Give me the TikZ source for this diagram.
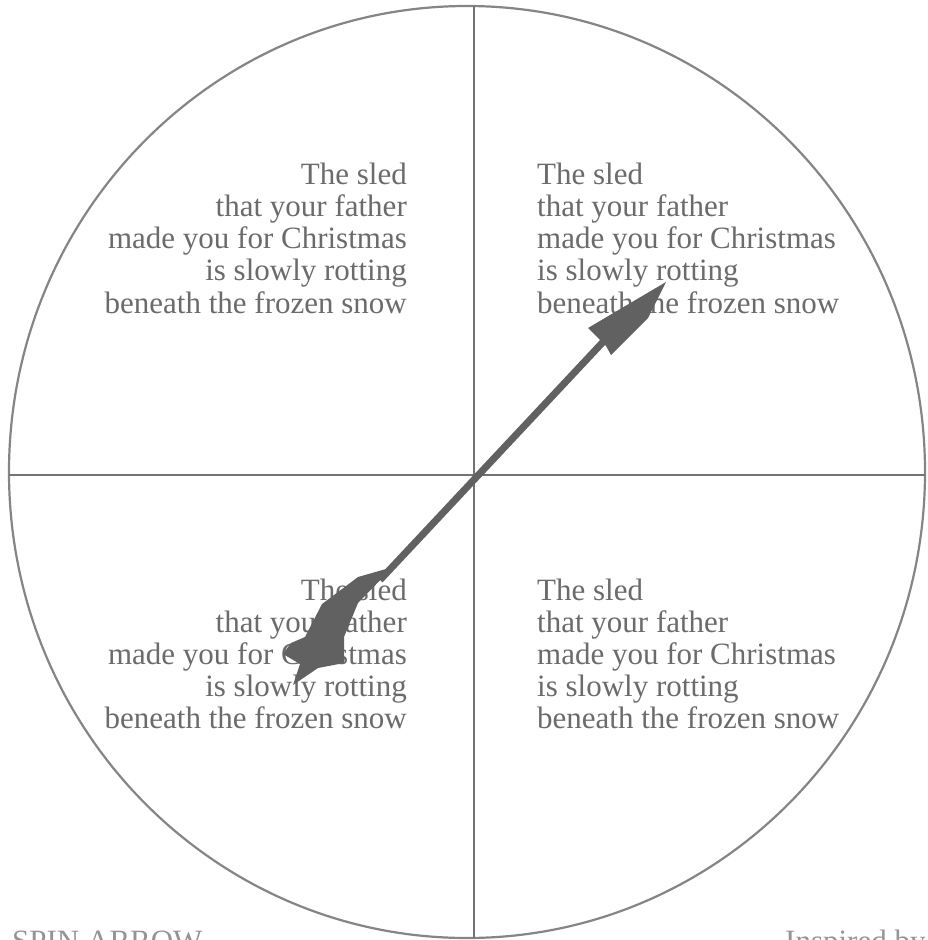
\documentclass[tikz,border=0pt]{standalone}
\usepackage{fontspec}
\setmainfont{Liberation Serif}
\begin{document}
\begin{tikzpicture}[x=1pt,y=-1pt,
  rim/.style={draw=black!48, line width=2.2pt},
  divider/.style={draw=black!55, line width=1.6pt},
  verse/.style={font=\fontsize{31}{32}\selectfont, text=black!58, inner sep=0pt},
  caption/.style={font=\fontsize{31}{32}\selectfont, text=black!42, inner sep=0pt},
  spinner/.style={fill=black!62, draw=none}]
\useasboundingbox (0,0) rectangle (927,940);
\clip (0,0) rectangle (927,940);
\fill[white] (0,0) rectangle (927,940);
% wheel
\coordinate (c) at (467,472);
\draw[rim] (c) ellipse [x radius=458, y radius=466];
\coordinate (vtop) at (474,6);
\coordinate (vbot) at (474,938);
\coordinate (hl) at (9,475);
\coordinate (hr) at (925,475);
\draw[divider] (vtop) -- (vbot);
\draw[divider] (hl) -- (hr);
% verses
\foreach \t [count=\i] in {The sled, that your father, made you for Christmas, is slowly rotting, beneath the frozen snow} {
  \node[verse, anchor=base east] (tl\i) at (407,152+32.2*\i) {\t};
  \node[verse, anchor=base west] (tr\i) at (537,152+32.2*\i) {\t};
  \node[verse, anchor=base east] (bl\i) at (407,568+32*\i) {\t};
  \node[verse, anchor=base west] (br\i) at (537,568+32*\i) {\t};
}
% captions
\node[caption, anchor=base west] (spin) at (12,951) {SPIN ARROW};
\node[caption, anchor=base west] (insp) at (785,951) {Inspired by};
% spinner arrow
\coordinate (headbase) at (603,342);
\coordinate (tailjoin) at (380,580);
\draw[black!62, line width=7pt] (headbase) -- (tailjoin);
\fill[spinner] (666,282) -- (648,318) -- (611,355) -- (606,346) -- (597,337) -- (588,328) -- cycle;
\fill[spinner] (393,567) -- (358,603) -- (344,637) -- (344,663) -- (318,668)
  -- (293,685) -- (300,664) -- (283,654) -- (291,643) -- (305,637)
  -- (322,604) -- (358,577) -- cycle;
\end{tikzpicture}
\end{document}
